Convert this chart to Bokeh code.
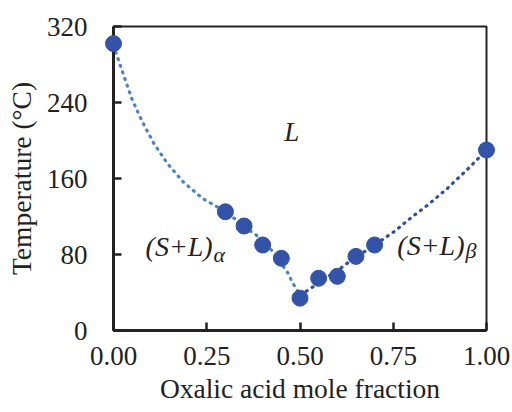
from bokeh.plotting import figure
from bokeh.models import Range1d, FixedTicker, Label
from bokeh.embed import file_html
from bokeh.resources import INLINE

# measured points
mole_fraction = [0.00, 0.30, 0.35, 0.40, 0.45, 0.50, 0.55, 0.60, 0.65, 0.70, 1.00]
temperature = [302, 125, 110, 90, 76, 34, 55, 57, 78, 90, 190]

# trend curves
trend_a_x = [0.00, 0.006, 0.027, 0.049, 0.077, 0.108, 0.145, 0.188, 0.239, 0.279, 0.314, 0.332, 0.366, 0.384, 0.417, 0.43, 0.468, 0.477, 0.488, 0.50]
trend_a_y = [300, 293, 269, 244, 220, 197, 175.5, 156, 139, 130, 120, 116.5, 105, 100, 87.7, 81.4, 60.3, 52.6, 45, 38]
trend_b_x = [0.50, 0.52, 0.536, 0.609, 0.627, 0.72, 0.737, 0.756, 0.772, 0.789, 0.805, 0.823, 0.841, 0.859, 0.875, 0.892, 0.908, 0.95, 1.00]
trend_b_y = [38, 42, 46.3, 65.6, 70.9, 95.4, 100, 105, 110.5, 115.8, 121, 126.3, 131.6, 137.5, 143, 148.4, 154.4, 170, 190]

x_ticks = [0, 0.25, 0.5, 0.75, 1.0]
x_tick_labels = {0: "0.00", 0.25: "0.25", 0.5: "0.50", 0.75: "0.75", 1.0: "1.00"}
y_ticks = [0, 80, 160, 240, 320]

FONT = "Liberation Serif"

p = figure(width=512, height=412, output_backend="svg", toolbar_location=None,
           x_range=Range1d(0, 1), y_range=Range1d(0, 320),
           min_border_left=113, min_border_right=26, min_border_top=26, min_border_bottom=82)
p.background_fill_color = "white"
p.border_fill_color = "white"
p.outline_line_color = "#222222"
p.outline_line_width = 2
p.grid.visible = False

for ax in (p.xaxis[0], p.yaxis[0]):
    ax.axis_line_width = 3
    ax.axis_line_color = "#222222"
    ax.major_tick_line_width = 2.5
    ax.major_tick_line_color = "#222222"
    ax.major_tick_in = 8
    ax.major_tick_out = 0
    ax.minor_tick_line_color = None
    ax.major_label_text_font = FONT
    ax.major_label_text_font_size = "27px"
    ax.major_label_text_color = "#222222"
    ax.axis_label_text_font = FONT
    ax.axis_label_text_font_size = "27.5px"
    ax.axis_label_text_font_style = "normal"
    ax.axis_label_text_color = "#222222"

p.xaxis.ticker = FixedTicker(ticks=x_ticks)
p.xaxis.major_label_overrides = x_tick_labels
p.xaxis.major_label_standoff = 16
p.xaxis.axis_label = "Oxalic acid mole fraction"
p.xaxis.axis_label_standoff = 5

p.yaxis.ticker = FixedTicker(ticks=y_ticks)
p.yaxis.major_label_standoff = 26
p.yaxis.axis_label = "Temperature (°C)"
p.yaxis.axis_label_standoff = 7

p.line(trend_a_x, trend_a_y, line_color="#4a80cc", line_width=3.2, line_dash="1 6", line_cap="round")
p.line(trend_b_x, trend_b_y, line_color="#3050a0", line_width=3.2, line_dash="1 6", line_cap="round")
p.scatter(mole_fraction, temperature, size=16, fill_color="#3253a8", line_color="#3253a8", level="overlay")

def lab(x, y, text, size):
    p.add_layout(Label(x=x, y=y, text=text, text_font=FONT, text_font_size=size,
                       text_font_style="italic", text_color="#222222",
                       text_baseline="alphabetic"))

lab(0.458, 209, "L", "27px")
lab(0.086, 88, "(S+L)", "28px")
lab(0.268, 80, "α", "22px")
lab(0.761, 89, "(S+L)", "28px")
lab(0.944, 84, "β", "22px")

open("out.html", "w").write(file_html(p, INLINE))
